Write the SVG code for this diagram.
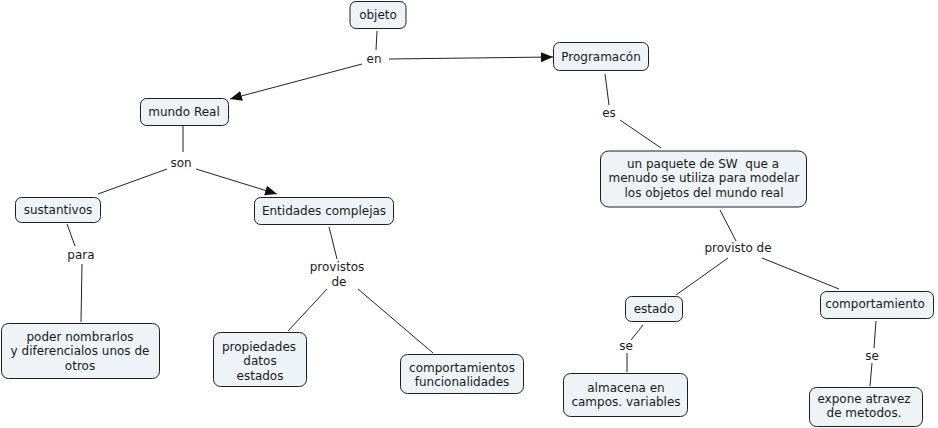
<svg xmlns="http://www.w3.org/2000/svg" width="938" height="428" viewBox="0 0 938 428">
<defs>
<style>
.box{fill:#edf3f6;stroke:#1e1e1e;stroke-width:1}
.t{font-family:"DejaVu Sans",Verdana,sans-serif;font-size:12px;fill:#1a1a1a;text-anchor:middle}
.ln{stroke:#222;stroke-width:1;fill:none}
</style>
<marker id="arr" markerUnits="userSpaceOnUse" markerWidth="13" markerHeight="11" refX="12" refY="5" orient="auto">
<path d="M0,0 L12,5 L0,10 z" fill="#111"/>
</marker>
</defs>
<rect width="938" height="428" fill="#ffffff"/>

<g id="connectors">
<line class="ln" x1="377" y1="31" x2="376" y2="50"/>
<line class="ln" x1="389" y1="59" x2="553" y2="57" marker-end="url(#arr)"/>
<line class="ln" x1="362" y1="64" x2="230" y2="99" marker-end="url(#arr)"/>
<line class="ln" x1="183" y1="126" x2="183" y2="152"/>
<line class="ln" x1="167" y1="169" x2="98" y2="194"/>
<line class="ln" x1="196" y1="169" x2="277" y2="194" marker-end="url(#arr)"/>
<line class="ln" x1="67" y1="224" x2="75" y2="246"/>
<line class="ln" x1="82" y1="264" x2="81" y2="322"/>
<line class="ln" x1="329" y1="227" x2="337" y2="259"/>
<line class="ln" x1="327" y1="289" x2="288" y2="331"/>
<line class="ln" x1="358" y1="289" x2="433" y2="353"/>
<line class="ln" x1="605" y1="74" x2="609" y2="105"/>
<line class="ln" x1="620" y1="120" x2="661" y2="148"/>
<line class="ln" x1="720" y1="210" x2="736" y2="241"/>
<line class="ln" x1="728" y1="258" x2="676" y2="295"/>
<line class="ln" x1="762" y1="258" x2="839" y2="289"/>
<line class="ln" x1="643" y1="325" x2="631" y2="340"/>
<line class="ln" x1="627" y1="353" x2="627" y2="372"/>
<line class="ln" x1="876" y1="321" x2="874" y2="348"/>
<line class="ln" x1="872" y1="363" x2="870" y2="386"/>
</g>

<g id="labels">
<text class="t" x="374" y="63">en</text>
<text class="t" x="181" y="167">son</text>
<text class="t" x="81" y="259">para</text>
<text class="t" x="337" y="271">provistos</text>
<text class="t" x="339" y="286">de</text>
<text class="t" x="609" y="117">es</text>
<text class="t" x="738" y="252">provisto de</text>
<text class="t" x="626" y="350">se</text>
<text class="t" x="872" y="360">se</text>
</g>

<g id="n-objeto">
<rect class="box" x="350" y="1.5" width="56" height="27" rx="6"/>
<text class="t" x="378" y="19">objeto</text>
</g>

<g id="n-programacion">
<rect class="box" x="553.5" y="42.5" width="95" height="28" rx="6"/>
<text class="t" x="601" y="61">Programacón</text>
</g>

<g id="n-mundo-real">
<rect class="box" x="140.5" y="98.5" width="88" height="27" rx="6"/>
<text class="t" x="184" y="116">mundo Real</text>
</g>

<g id="n-sustantivos">
<rect class="box" x="15.5" y="197.5" width="85" height="25" rx="6"/>
<text class="t" x="58" y="214">sustantivos</text>
</g>

<g id="n-entidades">
<rect class="box" x="254.5" y="197.5" width="139" height="27" rx="6"/>
<text class="t" x="324" y="215">Entidades complejas</text>
</g>

<g id="n-poder">
<rect class="box" x="1.5" y="323.5" width="158" height="55" rx="7"/>
<text class="t" x="80" y="341">poder nombrarlos</text>
<text class="t" x="80" y="355">y diferencialos unos de</text>
<text class="t" x="80" y="370">otros</text>
</g>

<g id="n-propiedades">
<rect class="box" x="213.5" y="332.5" width="93" height="54" rx="7"/>
<text class="t" x="259" y="351">propiedades</text>
<text class="t" x="260" y="365">datos</text>
<text class="t" x="260" y="380">estados</text>
</g>

<g id="n-comportamientos">
<rect class="box" x="400.5" y="354.5" width="123" height="39" rx="7"/>
<text class="t" x="462" y="372">comportamientos</text>
<text class="t" x="462" y="386">funcionalidades</text>
</g>

<g id="n-paquete">
<rect class="box" x="600.5" y="151" width="206" height="56" rx="8"/>
<text class="t" x="703" y="168" style="white-space:pre">un paquete de SW  que a</text>
<text class="t" x="704" y="182">menudo se utiliza para modelar</text>
<text class="t" x="704" y="197">los objetos del mundo real</text>
</g>

<g id="n-estado">
<rect class="box" x="625.5" y="296.5" width="57" height="25" rx="6"/>
<text class="t" x="654" y="313">estado</text>
</g>

<g id="n-comportamiento">
<rect class="box" x="820.5" y="291.5" width="113" height="27" rx="6"/>
<text class="t" x="875" y="308">comportamiento</text>
</g>

<g id="n-almacena">
<rect class="box" x="563.5" y="373.5" width="124" height="43" rx="7"/>
<text class="t" x="626" y="392">almacena en</text>
<text class="t" x="626" y="406">campos. variables</text>
</g>

<g id="n-expone">
<rect class="box" x="809.5" y="387.5" width="113" height="39" rx="7"/>
<text class="t" x="864" y="403">expone atravez</text>
<text class="t" x="864" y="417">de metodos.</text>
</g>
</svg>
